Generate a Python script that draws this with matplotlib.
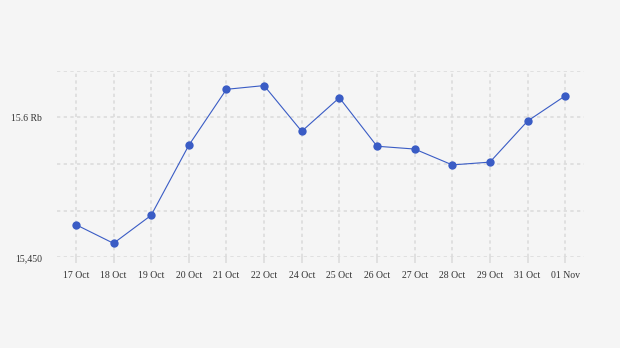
import matplotlib
matplotlib.use("Agg")
import matplotlib.pyplot as plt

dates = ["17 Oct", "18 Oct", "19 Oct", "20 Oct", "21 Oct", "22 Oct", "24 Oct",
         "25 Oct", "26 Oct", "27 Oct", "28 Oct", "29 Oct", "31 Oct", "01 Nov"]
values = [15485, 15465, 15495, 15570, 15630, 15634, 15585,
          15621, 15569, 15566, 15549, 15552, 15596, 15623]
ytick_vals = [15450, 15500, 15550, 15600, 15650]
ytick_labels = ["15,450", "", "", "15.6 Rb", ""]

plt.rcParams["font.family"] = ["Liberation Serif", "DejaVu Serif"]

fig = plt.figure(figsize=(6.2, 3.48), dpi=100, facecolor="#f5f5f5")
ax = fig.add_axes([0.092, 0.2606, 0.85, 0.5364])
ax.set_facecolor("#f5f5f5")

x = list(range(len(dates)))
ax.plot(x, values, color="#3a5cc5", linewidth=0.8, marker="o",
        markersize=6, markerfacecolor="#3a5cc5", markeredgewidth=0, zorder=3)

ax.set_xlim(-0.5, len(dates) - 0.5)
ax.set_ylim(15450, 15650)
ax.set_xticks(x)
ax.set_xticklabels(dates)
ax.set_yticks(ytick_vals)
ax.set_yticklabels(ytick_labels)

ax.grid(True, color="#dcdcdc", linestyle=(0, (2, 2)), linewidth=1.2, zorder=0)
for s in ax.spines.values():
    s.set_visible(False)
ax.tick_params(axis="x", length=4, width=1.2, color="#dcdcdc", pad=6,
               labelsize=7, labelcolor="#333333")
ax.tick_params(axis="y", length=0, pad=11, labelsize=7, labelcolor="#333333")

fig.savefig("out.png", dpi=100, facecolor=fig.get_facecolor())
